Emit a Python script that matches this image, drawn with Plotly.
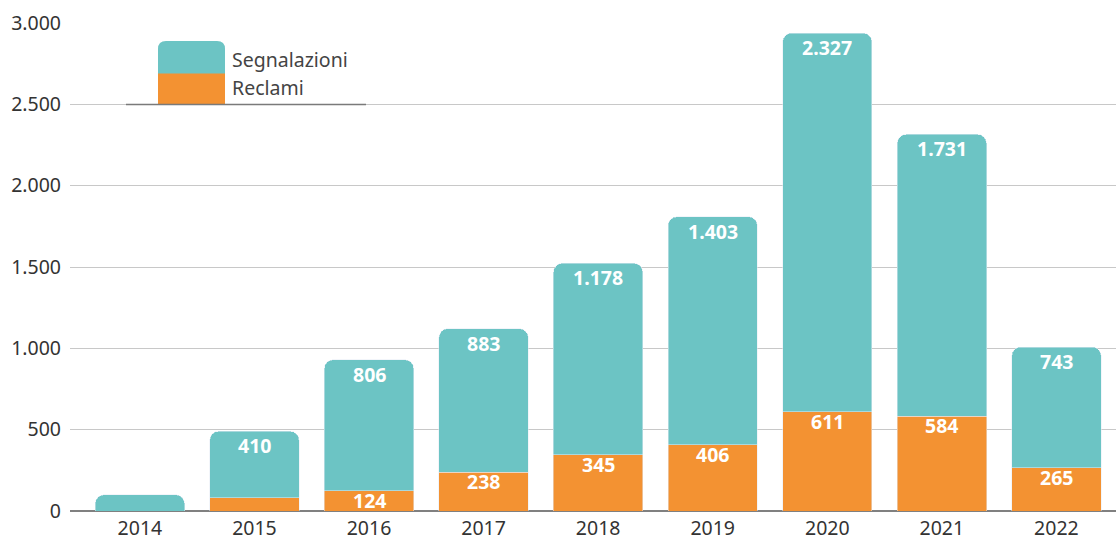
import plotly.graph_objects as go

years = ["2014", "2015", "2016", "2017", "2018", "2019", "2020", "2021", "2022"]
reclami = [0, 80, 124, 238, 345, 406, 611, 584, 265]
segnalazioni = [100, 410, 806, 883, 1178, 1403, 2327, 1731, 743]
reclami_labels = ["", "", "124", "238", "345", "406", "611", "584", "265"]
segnalazioni_labels = ["", "410", "806", "883", "1.178", "1.403", "2.327", "1.731", "743"]
y_ticks = [0, 500, 1000, 1500, 2000, 2500, 3000]

TEAL = "#6cc4c4"
ORANGE = "#f39232"
FONT = "Noto Sans"
FS = 19.5

fig = go.Figure()
fig.add_trace(go.Bar(x=years, y=reclami, name="Reclami", marker_color=ORANGE, hoverinfo="x+y"))
fig.add_trace(go.Bar(x=years, y=segnalazioni, name="Segnalazioni", marker_color=TEAL, hoverinfo="x+y"))

# value labels placed just inside the top of each segment (category index, data y)
annotations = []
for i, (r, s, rl, sl) in enumerate(zip(reclami, segnalazioni, reclami_labels, segnalazioni_labels)):
    for top, lab, shift in ((r, rl, 6), (r + s, sl, 1)):
        if lab:
            annotations.append(dict(
                x=i, y=top, xref="x", yref="y", text=lab, showarrow=False,
                xanchor="center", yanchor="top", yshift=shift,
                font=dict(size=FS, color="white", family=FONT, weight="bold"),
            ))

# plot-area geometry (pixels) used to place the custom legend
L, R, T, B = 70, 1116, 23, 511
W, H = R - L, B - T
def px(x): return (x - L) / W
def py(y): return (B - y) / H

def rounded_top(x0, x1, y0, y1, r):
    rx, ry = r / W, r / H
    return (f"M {px(x0)},{py(y1)} L {px(x0)},{py(y0)-ry} "
            f"Q {px(x0)},{py(y0)} {px(x0)+rx},{py(y0)} "
            f"L {px(x1)-rx},{py(y0)} Q {px(x1)},{py(y0)} {px(x1)},{py(y0)-ry} "
            f"L {px(x1)},{py(y1)} Z")

shapes = [
    dict(type="path", xref="paper", yref="paper",
         path=rounded_top(158, 225, 41, 74, 8), fillcolor=TEAL, line_width=0),
    dict(type="rect", xref="paper", yref="paper",
         x0=px(158), x1=px(225), y0=py(104), y1=py(73.5), fillcolor=ORANGE, line_width=0),
    dict(type="line", xref="paper", yref="paper",
         x0=px(126), x1=px(366), y0=py(104.5), y1=py(104.5),
         line=dict(color="#7a7a7a", width=1.5)),
]
annotations += [
    dict(xref="paper", yref="paper", x=px(230), y=py(60), text="Segnalazioni",
         showarrow=False, xanchor="left", yanchor="middle",
         font=dict(size=FS, color="#444444", family=FONT)),
    dict(xref="paper", yref="paper", x=px(230), y=py(87), text="Reclami",
         showarrow=False, xanchor="left", yanchor="middle",
         font=dict(size=FS, color="#444444", family=FONT)),
]

fig.update_layout(
    width=1116, height=536,
    barmode="stack", bargap=0.22, barcornerradius=9,
    separators=",.",
    showlegend=False,
    plot_bgcolor="white", paper_bgcolor="white",
    margin=dict(l=L, r=1116 - R, t=T, b=536 - B, autoexpand=False),
    font=dict(family=FONT, size=FS, color="#333333"),
    shapes=shapes, annotations=annotations,
)
fig.update_xaxes(
    type="category",
    range=[-0.61, 8.52], showgrid=False, ticks="", showline=False,
    ticklabelstandoff=3,
    tickfont=dict(size=FS, color="#333333"), automargin=False,
)
fig.update_yaxes(
    range=[0, 3000], tickvals=y_ticks, tickformat=",d",
    showgrid=True, gridcolor="#c8c8c8", gridwidth=1,
    zeroline=True, zerolinecolor="#808080", zerolinewidth=1.5,
    ticks="", ticklabelstandoff=8, showline=False,
    tickfont=dict(size=FS, color="#333333"), automargin=False,
)

fig.write_html("out.html", config={"displayModeBar": False},
               post_script="document.body.style.margin='0';document.body.style.overflow='hidden';")
